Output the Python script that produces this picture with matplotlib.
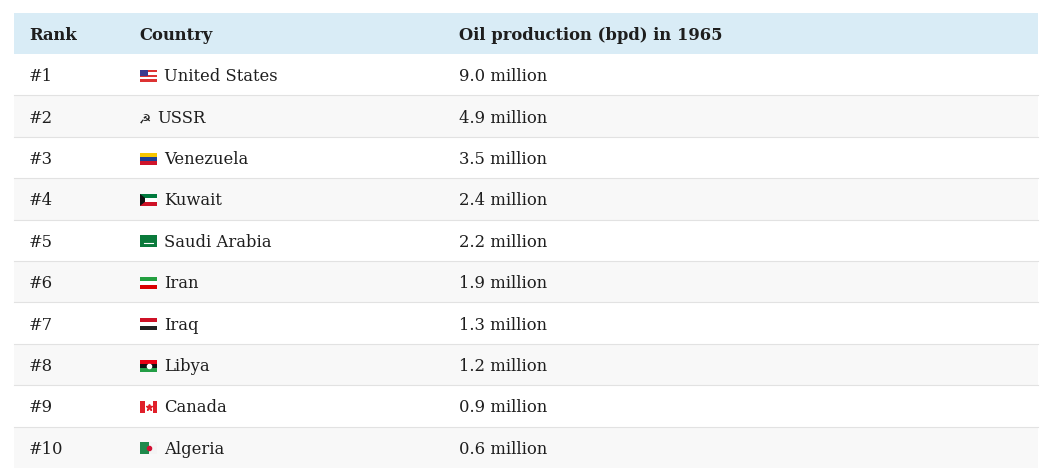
import matplotlib
matplotlib.use("Agg")
import matplotlib.pyplot as plt
from matplotlib.patches import Rectangle, Polygon

ranks = ["#1", "#2", "#3", "#4", "#5", "#6", "#7", "#8", "#9", "#10"]
countries = ["United States", "USSR", "Venezuela", "Kuwait", "Saudi Arabia",
             "Iran", "Iraq", "Libya", "Canada", "Algeria"]
production = [9.0, 4.9, 3.5, 2.4, 2.2, 1.9, 1.3, 1.2, 0.9, 0.6]
headers = ["Rank", "Country", "Oil production (bpd) in 1965"]

# flag stripe styles (horizontal, top to bottom)
flag_styles = {
    "United States": ["#d33", "#fff", "#d33", "#fff", "#d33"],
    "Venezuela": ["#f7c600", "#1c3f95", "#cf142b"],
    "Kuwait": ["#007a3d", "#ffffff", "#ce1126"],
    "Saudi Arabia": ["#0a7a3b"],
    "Iran": ["#239f40", "#ffffff", "#da0000"],
    "Iraq": ["#ce1126", "#ffffff", "#222222"],
    "Libya": ["#e70013", "#111111", "#239e46"],
}

W, H = 1050, 477
fig = plt.figure(figsize=(W / 100, H / 100), dpi=100)
ax = fig.add_axes([0, 0, 1, 1])
ax.set_xlim(0, W)
ax.set_ylim(H, 0)
ax.axis("off")

font = dict(family="DejaVu Serif", fontsize=11.8, color="#1e1e1e")
x0, x1 = 14, 1038
col_x = [29, 139, 459]
top, head_h, row_h = 14, 41, 41.4

ax.add_patch(Rectangle((x0, top), x1 - x0, head_h, color="#d9ecf6", lw=0))
for i, h in enumerate(headers):
    ax.text(col_x[i], top + head_h / 2 + 1, h, va="center", fontweight="bold", **font)

for i, (r, c, p) in enumerate(zip(ranks, countries, production)):
    y = top + head_h + i * row_h
    ax.add_patch(Rectangle((x0, y), x1 - x0, row_h,
                           color="#ffffff" if i % 2 == 0 else "#f8f8f8", lw=0))
    if i > 0:
        ax.plot([x0, x1], [y, y], color="#e2e2e2", lw=0.8)
    yc = y + row_h / 2 + 1
    ax.text(col_x[0], yc, r, va="center", **font)
    ax.text(col_x[2], yc, f"{p:.1f} million", va="center", **font)
    fx, fw, fh = 140, 17, 12
    tx = 164
    if c == "USSR":
        ax.text(139, yc + 1, "☭", va="center", family="DejaVu Sans",
                fontsize=10, color="#222")
        tx = 157
    elif c == "Canada":
        ax.add_patch(Rectangle((fx, yc - fh / 2), fw, fh, color="#e0202a", lw=0))
        ax.add_patch(Rectangle((fx + 4.5, yc - fh / 2), 8, fh, color="#fff", lw=0))
        ax.plot(fx + 8.5, yc, marker="*", ms=5, color="#e0202a")
    elif c == "Algeria":
        ax.add_patch(Rectangle((fx, yc - fh / 2), fw / 2, fh, color="#1f8a4c", lw=0))
        ax.add_patch(Rectangle((fx + fw / 2, yc - fh / 2), fw / 2, fh, color="#f4f4f4", lw=0))
        ax.plot(fx + 9, yc, marker="o", ms=3, color="#d21034")
    else:
        st = flag_styles[c]
        sh = fh / len(st)
        for k, col in enumerate(st):
            ax.add_patch(Rectangle((fx, yc - fh / 2 + k * sh), fw, sh, color=col, lw=0))
        if c == "United States":
            ax.add_patch(Rectangle((fx, yc - fh / 2), 8, 6.5, color="#3c3b8e", lw=0))
        if c == "Kuwait":
            ax.add_patch(Polygon([(fx, yc - fh / 2), (fx + 5, yc - 2), (fx + 5, yc + 2),
                                  (fx, yc + fh / 2)], color="#111", lw=0))
        if c == "Saudi Arabia":
            ax.plot([fx + 4, fx + 13], [yc + 2, yc + 2], color="#fff", lw=0.8)
        if c == "Libya":
            ax.plot(fx + 8.5, yc, marker="o", ms=3, color="#fff")
    ax.text(tx, yc, c, va="center", **font)

fig.savefig("out.png", dpi=100)
